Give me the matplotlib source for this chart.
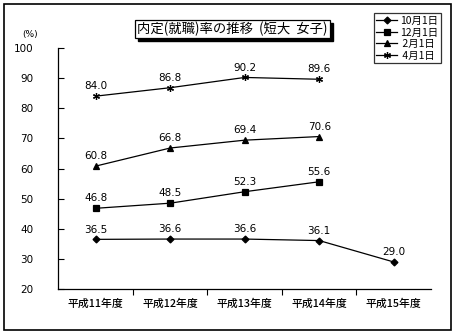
import numpy as np
import matplotlib.pyplot as plt
from matplotlib.patches import Rectangle

plt.rcParams['font.family'] = ['Noto Sans CJK JP', 'DejaVu Sans']

# データ
years = ['平成11年度', '平成12年度', '平成13年度', '平成14年度', '平成15年度']
oct1 = [36.5, 36.6, 36.6, 36.1, 29.0]
dec1 = [46.8, 48.5, 52.3, 55.6]
feb1 = [60.8, 66.8, 69.4, 70.6]
apr1 = [84.0, 86.8, 90.2, 89.6]
series_labels = ['10月1日', '12月1日', ' 2月1日', ' 4月1日']

fig = plt.figure(figsize=(4.57, 3.35), dpi=100)
ax = fig.add_axes([0.128, 0.137, 0.815, 0.72])

x = np.arange(len(years))
styles = [
    (oct1, 'D', 3.5),
    (dec1, 's', 4),
    (feb1, '^', 5),
    (apr1, (6, 2, 0), 5),
]
handles = []
for (vals, mk, ms), lab in zip(styles, series_labels):
    xs = x[:len(vals)]
    h, = ax.plot(xs, vals, color='black', lw=0.9, marker=mk, ms=ms,
                 mew=0.9, mfc='black', mec='black', label=lab)
    handles.append(h)
    for xi, v in zip(xs, vals):
        ax.text(xi, v + 1.6, f'{v:.1f}', ha='center', va='bottom', fontsize=7.5,
                family='DejaVu Sans')

ax.set_xlim(-0.5, len(years) - 0.5)
ax.set_ylim(20, 100)
ax.set_yticks(np.arange(20, 101, 10))
ax.set_yticklabels([str(v) for v in range(20, 101, 10)], family='DejaVu Sans', fontsize=7.5)
ax.set_xticks(x)
ax.set_xticklabels(years, fontsize=7.8, weight='medium')
ax.set_xticks(np.arange(0.5, len(years) - 0.5, 1), minor=True)
ax.tick_params(axis='x', which='major', length=0, pad=7)
ax.tick_params(axis='x', which='minor', length=4, direction='out', width=0.8)
ax.tick_params(axis='y', length=4, direction='in', width=0.8, pad=18)
for s in ['top', 'right']:
    ax.spines[s].set_visible(False)
for s in ['left', 'bottom']:
    ax.spines[s].set_linewidth(0.9)

fig.text(0.048, 0.89, '(%)', fontsize=6.5, family='DejaVu Sans')

# タイトル（影付きの枠）
fig.patches.append(Rectangle((0.302, 0.878), 0.427, 0.054, transform=fig.transFigure,
                             facecolor='black', edgecolor='black'))
fig.patches.append(Rectangle((0.295, 0.887), 0.427, 0.054, transform=fig.transFigure,
                             facecolor='white', edgecolor='black', lw=0.9))
fig.text(0.508, 0.913, '内定(就職)率の推移  (短大  女子)', ha='center', va='center', fontsize=9.6)

# 凡例
leg = fig.legend(handles=handles, loc='upper left', bbox_to_anchor=(0.818, 0.96),
                 fontsize=7.5, frameon=True, fancybox=False, handlelength=2.0,
                 handletextpad=0.3, borderpad=0.25, labelspacing=0.15, borderaxespad=0)
leg.get_frame().set_edgecolor('black')
leg.get_frame().set_linewidth(0.9)

# 外枠
fig.patches.append(Rectangle((0.009, 0.015), 0.978, 0.973, transform=fig.transFigure,
                             facecolor='none', edgecolor='black', lw=1.2))

fig.savefig('out.png', dpi=100)
